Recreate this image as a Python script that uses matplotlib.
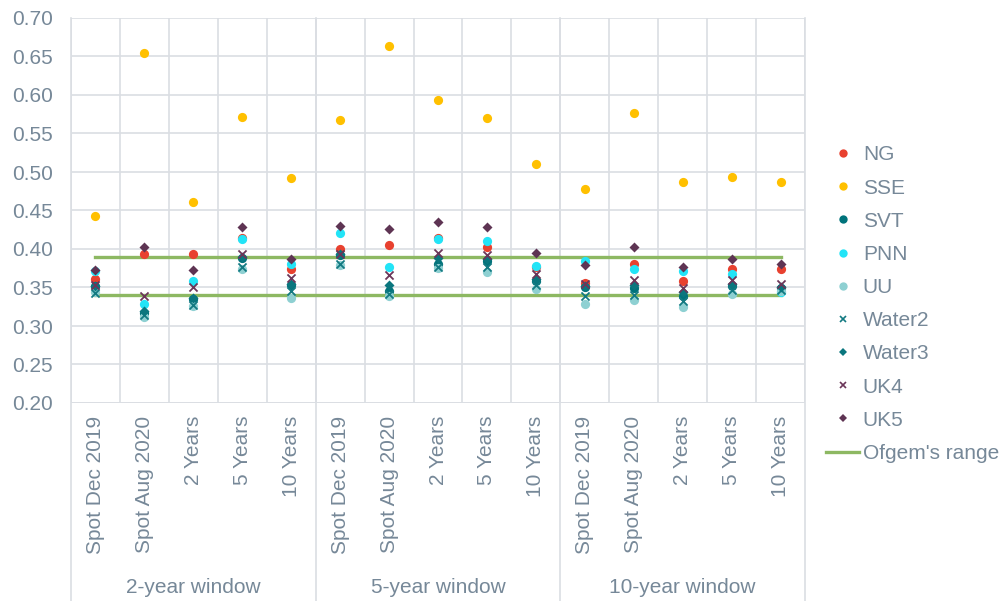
import numpy as np
import matplotlib.pyplot as plt
from matplotlib.lines import Line2D

plt.rcParams['font.family'] = ['Liberation Sans', 'DejaVu Sans']

# Categories along the x axis, grouped into three estimation windows
periods = ["Spot Dec 2019", "Spot Aug 2020", "2 Years", "5 Years", "10 Years"]
windows = ["2-year window", "5-year window", "10-year window"]
categories = periods * len(windows)

# Asset beta estimates per company (one value per category)
ng     = [0.361, 0.393, 0.393, 0.414, 0.374, 0.400, 0.405, 0.414, 0.403, 0.376, 0.356, 0.380, 0.359, 0.374, 0.374]
sse    = [0.443, 0.655, 0.461, 0.571, 0.492, 0.568, 0.663, 0.593, 0.570, 0.511, 0.478, 0.577, 0.487, 0.493, 0.487]
svt    = [0.352, 0.317, 0.335, 0.388, 0.353, 0.392, 0.346, 0.380, 0.384, 0.358, 0.350, 0.349, 0.339, 0.352, 0.349]
pnn    = [0.372, 0.329, 0.358, 0.413, 0.381, 0.421, 0.376, 0.413, 0.410, 0.378, 0.385, 0.374, 0.371, 0.368, 0.344]
uu     = [0.344, 0.312, 0.326, 0.374, 0.337, 0.379, 0.339, 0.375, 0.370, 0.348, 0.329, 0.334, 0.325, 0.342, 0.345]
water2 = [0.343, 0.314, 0.327, 0.377, 0.345, 0.381, 0.342, 0.377, 0.377, 0.353, 0.339, 0.340, 0.332, 0.347, 0.347]
water3 = [0.352, 0.319, 0.337, 0.389, 0.355, 0.393, 0.353, 0.388, 0.387, 0.361, 0.352, 0.353, 0.344, 0.354, 0.350]
uk4    = [0.353, 0.339, 0.350, 0.394, 0.362, 0.394, 0.366, 0.395, 0.392, 0.368, 0.354, 0.360, 0.349, 0.360, 0.354]
uk5    = [0.373, 0.402, 0.373, 0.429, 0.387, 0.430, 0.426, 0.435, 0.428, 0.395, 0.379, 0.403, 0.377, 0.387, 0.381]

ofgem_low, ofgem_high = 0.34, 0.39

series = [
    ("NG", ng, "o", "#E8412F"),
    ("SSE", sse, "o", "#FFC000"),
    ("SVT", svt, "o", "#00737B"),
    ("PNN", pnn, "o", "#22E4F7"),
    ("UU", uu, "o", "#8ED0D2"),
    ("Water2", water2, "x", "#137A82"),
    ("Water3", water3, "D", "#0A767E"),
    ("UK4", uk4, "x", "#6B3659"),
    ("UK5", uk5, "D", "#5E3453"),
]

text_col = "#768898"
grid_col = "#DADEE3"
fs = 15

fig = plt.figure(figsize=(10.05, 6.01), dpi=100)
ax = fig.add_axes([71 / 1005, 1 - 403 / 601, (805 - 71) / 1005, (403 - 18) / 601])

x = np.arange(len(categories))
for name, vals, mk, col in series:
    if mk == "o":
        ax.scatter(x, vals, marker="o", s=44, color=col, linewidths=0, zorder=3)
    elif mk == "D":
        ax.scatter(x, vals, marker="D", s=26, color=col, linewidths=0, zorder=3)
    else:
        ax.scatter(x, vals, marker="x", s=34, color=col, linewidths=1.3, zorder=3)

ax.plot([x[0], x[-1]], [ofgem_high] * 2, color="#8DB862", lw=2.4, zorder=2)
ax.plot([x[0], x[-1]], [ofgem_low] * 2, color="#8DB862", lw=2.4, zorder=2)

ax.set_xlim(-0.5, len(categories) - 0.5)
ax.set_ylim(0.20, 0.70)
ax.set_yticks(np.arange(0.20, 0.701, 0.05))
ax.set_yticklabels([f"{v:.2f}" for v in np.arange(0.20, 0.701, 0.05)])
ax.set_xticks(x)
ax.set_xticklabels(categories, rotation=90)
ax.set_xticks(np.arange(-0.5, len(categories)), minor=True)
ax.tick_params(axis="both", which="both", length=0, labelsize=fs, colors=text_col)
ax.tick_params(axis="x", pad=9)
ax.tick_params(axis="y", pad=13)

ax.grid(True, axis="y", color=grid_col, lw=1.2, zorder=0)
ax.grid(True, axis="x", which="minor", color=grid_col, lw=1.2, zorder=0)
ax.grid(False, axis="x", which="major")
for s in ax.spines.values():
    s.set_visible(False)
ax.axhline(0.20, color=grid_col, lw=1.2, zorder=0)

# group separators running down through the category labels
trans = ax.get_xaxis_transform()
for b in [-0.5, 4.5, 9.5, 14.5]:
    ax.plot([b, b], [-0.52, 1.0], transform=trans, color=grid_col, lw=1.2, clip_on=False, zorder=0)
for i, w in enumerate(windows):
    ax.text(i * 5 + 2, -0.48, w, transform=trans, ha="center", va="center",
            fontsize=fs, color=text_col)

handles = []
for name, vals, mk, col in series:
    if mk == "x":
        handles.append(Line2D([], [], ls="none", marker="x", ms=5, mew=1.2, color=col, label=name))
    elif mk == "D":
        handles.append(Line2D([], [], ls="none", marker="D", ms=4.5, mew=0, color=col, label=name))
    else:
        handles.append(Line2D([], [], ls="none", marker="o", ms=6, mew=0, color=col, label=name))
handles.append(Line2D([], [], color="#8DB862", lw=2.4, label="Ofgem's range"))

leg = fig.legend(handles=handles, loc="upper left", bbox_to_anchor=(816 / 1005, 1 - 135 / 601),
                 frameon=False, fontsize=fs, labelspacing=0.68, handlelength=1.55,
                 handletextpad=0.2, borderpad=0)
for t in leg.get_texts():
    t.set_color(text_col)

fig.savefig("out.png", dpi=100)
